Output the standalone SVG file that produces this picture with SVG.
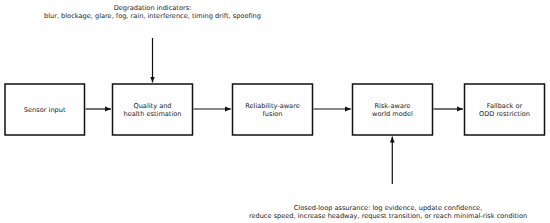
<svg xmlns="http://www.w3.org/2000/svg" width="550" height="223" viewBox="0 0 550 223">
<defs>
<marker id="ah" viewBox="0 0 10 10" refX="10" refY="5" markerWidth="6" markerHeight="6" markerUnits="userSpaceOnUse" orient="auto">
<path d="M0,1 L10,5 L0,9 z" fill="#111"/>
</marker>
<style>
.box{fill:#fff;stroke:#111;stroke-width:1.5}
.t{font-family:"DejaVu Sans",sans-serif;font-size:6.6px;fill:#222;text-anchor:middle}
.c{stroke:#111;stroke-width:1.2;fill:none;marker-end:url(#ah)}
</style>
</defs>
<rect width="550" height="223" fill="#fff"/>
<g id="top-label">
<text class="t" x="152.5" y="10">Degradation indicators:</text>
<text class="t" x="152.5" y="18">blur, blockage, glare, fog, rain, interference, timing drift, spoofing</text>
</g>
<g id="bottom-label">
<text class="t" x="388" y="209.5">Closed-loop assurance: log evidence, update confidence,</text>
<text class="t" x="388" y="217.5">reduce speed, increase headway, request transition, or reach minimal-risk condition</text>
</g>
<g id="n1"><rect class="box" x="5" y="84" width="79.5" height="51"/><text class="t" x="44.7" y="111.5">Sensor input</text></g>
<g id="n2"><rect class="box" x="112.5" y="84" width="80" height="51"/><text class="t" x="152.5" y="107.8">Quality and</text><text class="t" x="152.5" y="115.6">health estimation</text></g>
<g id="n3"><rect class="box" x="232.5" y="84" width="80" height="51"/><text class="t" x="272.5" y="107.8">Reliability-aware</text><text class="t" x="272.5" y="115.6">fusion</text></g>
<g id="n4"><rect class="box" x="352.5" y="84" width="80" height="51"/><text class="t" x="392.5" y="107.8">Risk-aware</text><text class="t" x="392.5" y="115.6">world model</text></g>
<g id="n5"><rect class="box" x="464.5" y="84" width="80" height="51"/><text class="t" x="504.5" y="107.8">Fallback or</text><text class="t" x="504.5" y="115.6">ODD restriction</text></g>
<g id="connectors">
<line class="c" x1="85.5" y1="109" x2="111" y2="109"/>
<line class="c" x1="193.5" y1="109" x2="231" y2="109"/>
<line class="c" x1="313.5" y1="109" x2="351" y2="109"/>
<line class="c" x1="433.5" y1="109" x2="463" y2="109"/>
<line class="c" x1="152.5" y1="38" x2="152.5" y2="82.5"/>
<line class="c" x1="392.3" y1="184" x2="392.3" y2="136.5"/>
</g>
</svg>
